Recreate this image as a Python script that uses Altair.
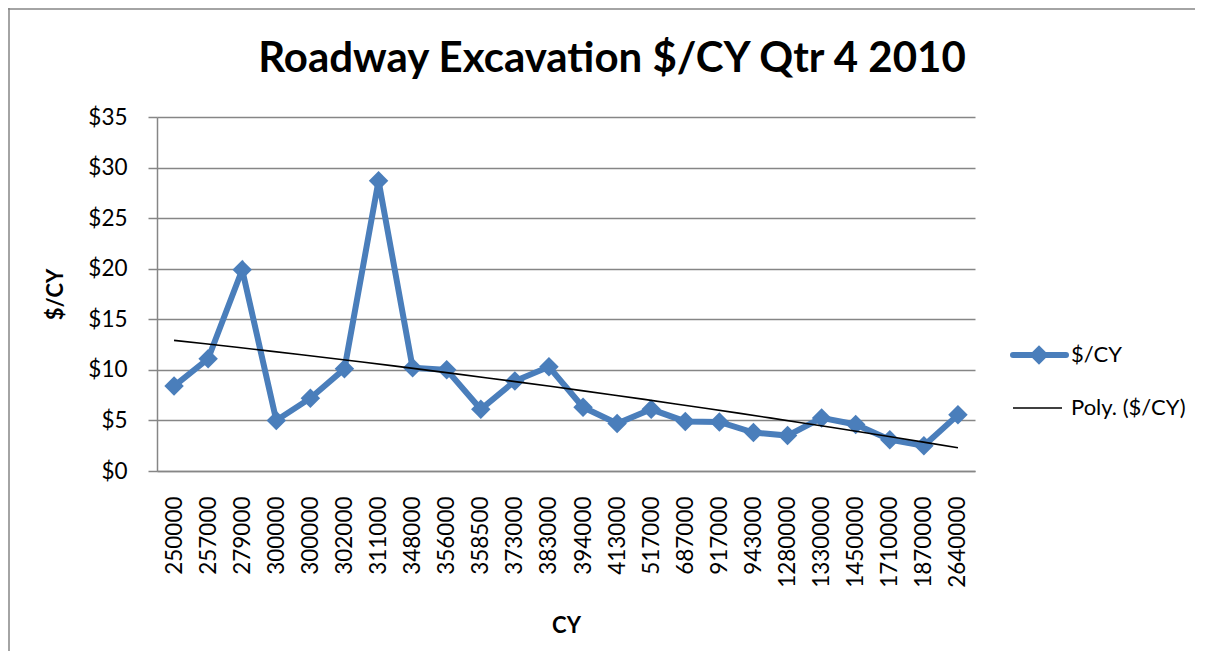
import altair as alt
import pandas as pd

cy_labels = ["250000", "257000", "279000", "300000", "300000", "302000", "311000",
             "348000", "356000", "358500", "373000", "383000", "394000", "413000",
             "517000", "687000", "917000", "943000", "1280000", "1330000", "1450000",
             "1710000", "1870000", "2640000"]
cost_values = [8.4, 11.1, 19.9, 5.0, 7.2, 10.1, 28.7, 10.2, 10.0, 6.1, 8.9, 10.3,
               6.3, 4.7, 6.1, 4.9, 4.85, 3.8, 3.5, 5.25, 4.6, 3.1, 2.5, 5.55]
series_names = ["$/CY", "Poly. ($/CY)"]
title_text = ["Roadway Excavation $/CY Qtr 4 2010"]
y_ticks = [0, 5, 10, 15, 20, 25, 30, 35]

BLUE = "#4A7EBB"
GRID = "#868686"
FONT = "Lato"

df = pd.DataFrame({"i": list(range(len(cy_labels))), "cy": cy_labels, "v": cost_values})
n = len(cy_labels)

label_expr = "[" + ",".join("'" + c + "'" for c in cy_labels) + "][datum.value]"

x_axis = alt.Axis(
    values=list(range(n)), labelExpr=label_expr, labelAngle=270,
    ticks=False, grid=False, domainColor=GRID, domainWidth=1.5,
    labelFont=FONT, labelFontSize=22.5, labelColor="black", labelPadding=25,
    labelOverlap=False, labelFlush=False, labelBound=False, labelSeparation=0,
    title="CY", titleFont=FONT, titleFontSize=22, titleFontWeight="bold",
    titleColor="black", titleX=409, titleY=154, titleBaseline="middle",
)
x_scale = alt.Scale(domain=[-0.5, n - 0.5], nice=False, zero=False)
y_axis = alt.Axis(
    values=y_ticks, format="$.0f", tickSize=9, tickColor=GRID, tickWidth=1.5,
    domainColor=GRID, domainWidth=1.5, gridColor=GRID, gridWidth=1.5,
    labelFont=FONT, labelFontSize=22.5, labelColor="black", labelPadding=21,
    title="$/CY", titleFont=FONT, titleFontSize=22, titleFontWeight="bold",
    titleColor="black", titleAngle=270, titleX=-102, titleY=177,
    titleBaseline="middle", titleAlign="center",
)
y_scale = alt.Scale(domain=[0, 35], nice=False)


def xe():
    return alt.X("i:Q", scale=x_scale, axis=x_axis)


def ye():
    return alt.Y("v:Q", scale=y_scale, axis=y_axis)


base = alt.Chart(df)
line = base.mark_line(color=BLUE, strokeWidth=6).encode(x=xe(), y=ye())
pts = base.mark_point(shape="diamond", filled=True, size=380, color=BLUE, opacity=1).encode(
    x=xe(), y=ye())
trend = base.transform_regression("i", "v", method="poly", order=2).mark_line(
    color="black", strokeWidth=1.6).encode(x=xe(), y=ye())

leg1 = pd.DataFrame({"name": [series_names[0]]})
leg2 = pd.DataFrame({"name": [series_names[1]]})
ttl = pd.DataFrame({"t": title_text})

leg_line1 = alt.Chart(leg1).mark_rule(color=BLUE, strokeWidth=6, strokeCap="round").encode(
    x=alt.value(856), x2=alt.value(909), y=alt.value(238))
leg_pt1 = alt.Chart(leg1).mark_point(shape="diamond", filled=True, size=380, color=BLUE, opacity=1).encode(
    x=alt.value(882), y=alt.value(238))
leg_txt1 = alt.Chart(leg1).mark_text(align="left", baseline="middle", font=FONT, fontSize=22, color="black").encode(
    text="name:N", x=alt.value(914), y=alt.value(238))
leg_line2 = alt.Chart(leg2).mark_rule(color="black", strokeWidth=1.6).encode(
    x=alt.value(856), x2=alt.value(905), y=alt.value(291))
leg_txt2 = alt.Chart(leg2).mark_text(align="left", baseline="middle", font=FONT, fontSize=22, color="black").encode(
    text="name:N", x=alt.value(914), y=alt.value(291))

title = alt.Chart(ttl).mark_text(align="center", baseline="alphabetic", font=FONT, fontSize=42,
                                 fontWeight="bold", color="black").encode(
    text="t:N", x=alt.value(455), y=alt.value(-45))

border_top = alt.Chart(ttl).mark_rule(color=GRID, strokeWidth=1.5).encode(
    x=alt.value(-149), x2=alt.value(1040), y=alt.value(-108))
border_left = alt.Chart(ttl).mark_rule(color=GRID, strokeWidth=1.5).encode(
    x=alt.value(-148), y=alt.value(-109), y2=alt.value(560))

chart = alt.layer(
    line, pts, trend, leg_line1, leg_pt1, leg_txt1, leg_line2, leg_txt2, title,
    border_top, border_left
).properties(
    width=818, height=354,
    padding={"left": 149, "top": 109, "right": 220, "bottom": 180},
    autosize="none",
).configure_view(stroke=None).configure_axis(labelOverlap=False)

chart.save("out.html", embed_options={"renderer": "svg", "actions": False})
